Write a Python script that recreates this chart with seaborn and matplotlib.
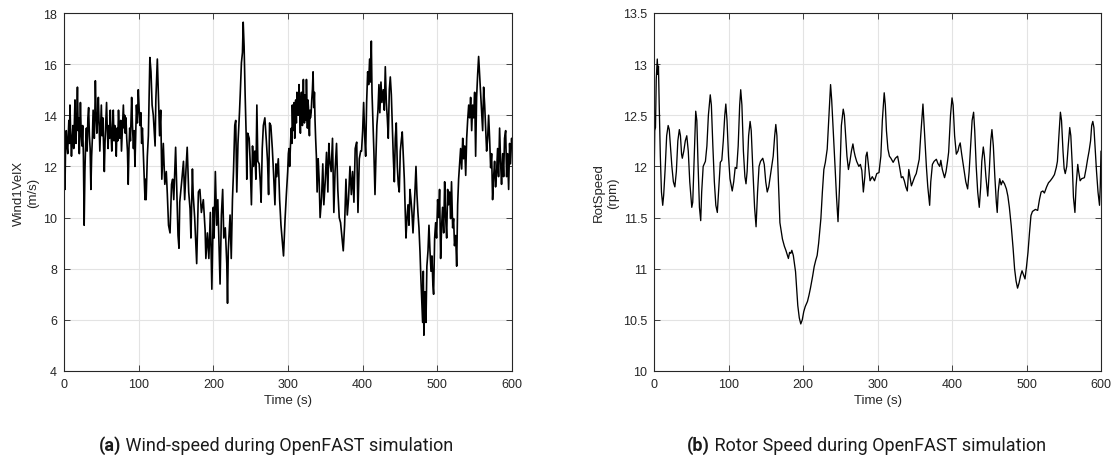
import matplotlib
matplotlib.use("Agg")
import matplotlib.pyplot as plt
import seaborn as sns
import pandas as pd

# Wind1VelX hub-height wind speed (m/s) against simulation time (s)
wind_time = [
    0, 0.7, 1.3, 2, 3, 4, 5, 5.8, 6.5, 7.2, 8, 9, 10, 11, 12, 13, 14, 14.7, 15.4, 16,
    17, 18, 19, 19.8, 20.5, 21.3, 22, 23, 24, 25, 26, 27, 28, 29, 30, 31, 32, 33, 34, 35,
    36, 37, 38, 39, 40.6, 41.3, 42, 43, 44, 45, 46, 47, 48, 49, 50, 51, 52, 53, 54, 55,
    56, 57, 58, 59, 60, 61, 62, 63, 64, 65, 66, 67, 68, 69, 70, 71, 72, 73, 74, 75,
    76, 77, 78, 79.5, 80.5, 81.3, 82, 83, 84, 85, 86, 87, 88, 89, 90.6, 91.7, 93, 94, 95, 96,
    97, 98.3, 99.5, 100.7, 102, 103, 104, 105, 106, 107.3, 108.5, 109.2, 110, 111.6, 113, 115, 116.5, 118,
    119.6, 122, 123, 125, 126, 128, 129.5, 131, 133, 135, 137, 138.4, 140, 142, 144, 145.5, 147, 149.5, 151, 152.7,
    154, 155, 157.6, 160, 161.6, 163.4, 165, 167, 168.8, 170, 172, 173, 175, 177.7, 180, 182, 184, 186.6, 189, 190,
    192, 194, 196, 198, 200, 201, 202.7, 204.5, 206, 208, 209, 210.8, 212.5, 214, 216, 218, 219, 220, 222.4, 224,
    225.6, 227, 228.7, 230, 231.4, 233, 235, 236, 237.6, 239, 240, 241.2, 242.6, 244, 244.8, 246, 248, 249.3, 251, 252.5,
    253.8, 255.6, 257, 258.3, 259.6, 261.4, 262.8, 264, 265.5, 267, 269, 271, 272.6, 274, 275.3, 277, 279, 280.7, 282.5, 283.9,
    285, 287, 288.8, 290.6, 292.4, 294, 296, 297.8, 299.6, 300.5, 301.3, 302.2, 303, 303.8, 304.5, 305.2, 305.8, 306.7, 307.6, 308.3,
    309, 309.7, 310.3, 311.2, 312, 312.8, 313.5, 314.2, 314.8, 315.7, 316.6, 317.3, 318, 318.6, 319.3, 320, 320.6, 321.3, 322, 322.7,
    323.3, 324, 324.7, 325.4, 326, 326.7, 327.4, 328, 328.7, 329.4, 330, 331, 331.8, 332.7, 333.6, 334.5, 335.4, 336.2, 337, 338,
    339, 340.4, 341.7, 343, 345,
    346.6, 348, 349.8, 351.6, 353.4, 354.7, 356, 357.8, 359.6, 361.4, 363, 365, 366.7, 368.6, 370.4, 372, 374, 375.8, 377.6, 379.4,
    381, 383, 384.8, 386.5, 388.3, 390, 392, 393.7, 395.5, 397.3, 398.5, 400, 401.3, 402.7, 404, 405.3, 406.7, 408, 409.3, 410.7,
    411.6, 412.5, 413.8, 415, 416.5, 417.8, 419, 420.5, 421.8, 423, 424.5, 425.8, 427.6, 429, 430.3, 431.7, 433, 434.3, 435.7, 437,
    438.4, 439.7, 441, 442.4, 443.7, 445, 446.4, 447.7, 449, 450.4, 451.7, 453, 454.4, 455.8, 457, 458, 459.3, 460.7, 462, 463.4,
    464.7, 466, 467.4, 468.7, 470, 471.4, 472.7, 474, 475.4, 476.8, 478, 479.4, 480.3, 481.2, 482, 483.5, 484.8, 486, 487.5, 488.8,
    490, 491.5, 492.8, 494, 495, 496.4, 497.7, 499, 500.4, 501.8, 503, 504.4, 505.8, 507, 508.5, 509.8, 511, 512.5, 513.8, 515,
    516.5, 517.8, 519, 520.5, 521.8, 523, 524.5, 525.9, 527.2, 528.5, 530, 531.2, 532.6, 534, 535.2, 536.6, 538, 539.3, 540.6, 542,
    543.3, 544.6, 546, 547.3, 548.6, 550, 551.3, 552.6, 554, 555.3, 556.6, 558, 559.3, 560.7, 562, 563.4, 564.7, 566, 567.4, 568.7,
    570, 571.4, 572.7, 574, 575.4, 576.7, 578, 579.4, 580.7, 582, 583.4, 584.8, 586, 587.5, 588.8, 590, 591.5, 592.8, 594, 595.5,
    596.8, 598, 599.5, 600,
]
wind_speed = [
    13.0, 12.2, 11.1, 12.6, 13.4, 12.8, 12.5, 13.3, 13.8, 12.9, 14.4, 13.2, 12.4, 13.1, 13.6, 12.7, 13.9, 14.6, 13.2, 12.9,
    13.8, 15.1, 13.4, 13.9, 12.5, 13.6, 14.5, 13.3, 12.8, 13.6, 12.4, 9.7, 11.8, 12.9, 13.5, 12.6, 13.9, 14.3, 13.2, 12.7,
    11.1, 12.4, 13.1, 14.2, 13.1, 14.0, 15.35, 14.1, 13.3, 13.9, 14.7, 13.6, 12.6, 13.5, 14.4, 13.2, 13.9, 12.8, 11.8, 13.0,
    13.7, 14.5, 13.4, 12.7, 13.6, 13.1, 14.2, 13.3, 12.6, 13.5, 14.2, 13.0, 13.6, 13.2, 12.4, 13.5, 13.0, 14.2, 13.4, 13.1,
    13.8, 12.6, 13.3, 14.4, 13.5, 14.0, 13.3, 13.9, 13.1, 12.6, 11.3, 12.7, 13.5, 13.0, 14.7, 13.6, 12.7, 13.4, 12.0, 13.2,
    14.4, 13.7, 15.0, 14.2, 13.6, 14.1, 12.9, 13.5, 12.7, 11.6, 10.7, 11.5, 10.7, 12.4, 13.2, 16.26, 15.7, 14.4,
    14.0, 12.8, 14.6, 16.2, 15.2, 13.2, 14.2, 11.5, 12.9, 11.3, 11.8, 10.9, 9.7, 9.4, 11.3, 11.5, 10.7, 12.75, 11.1, 9.3,
    8.8, 10.6, 11.4, 12.2, 10.7, 11.9, 12.75, 11.0, 10.35, 9.2, 11.9, 10.9, 10.0, 8.2, 11.0, 11.1, 10.2, 10.7, 9.5, 8.4,
    9.4, 8.4, 10.2, 7.2, 10.4, 9.2, 11.8, 9.7, 10.7, 8.4, 7.4, 10.1, 11.1, 9.2, 9.6, 8.2, 6.65, 8.7, 10.1, 8.4,
    10.7, 11.8, 13.6, 13.8, 11.0, 12.9, 14.1, 14.8, 16.05, 16.45, 17.64, 16.7, 14.8, 13.2, 11.5, 13.3, 13.1, 12.2, 10.5, 12.8,
    12.0, 12.6, 11.5, 14.4, 12.2, 12.1, 11.4, 10.6, 12.7, 13.6, 13.9, 13.0, 12.2, 10.9, 13.7, 13.6, 12.7, 11.7, 10.5, 12.1,
    11.6, 12.3, 10.7, 9.7, 9.05, 8.5, 9.9, 10.9, 11.8, 12.5, 12.7, 12.0, 12.6, 13.2, 13.5, 12.9, 14.4, 13.4, 13.9, 14.5,
    13.1, 13.8, 14.6, 13.7, 14.9, 14.2, 14.0, 14.7, 15.2, 14.1, 13.3, 14.2, 14.9, 14.0, 13.6, 14.5, 15.4, 14.3, 13.7, 14.8,
    14.4, 13.8, 15.4, 14.4, 13.5, 14.6, 14.3, 13.7, 13.2, 14.2, 13.9, 14.1, 14.6, 15.0, 15.7, 14.3, 14.9, 13.8, 13.1, 12.4,
    11.0, 12.3, 11.5, 10.0, 10.8,
    12.1, 10.5, 11.4, 12.55, 11.0, 12.9, 12.2, 11.8, 13.1, 10.2, 11.8, 12.9, 11.1, 10.0, 9.8, 9.3, 8.7, 9.7, 11.5, 10.1,
    10.7, 12.0, 10.9, 11.8, 10.6, 12.7, 12.95, 10.2, 12.3, 12.6, 12.6, 13.4, 14.5, 13.2, 12.4, 14.5, 15.7, 15.2, 16.2, 15.3,
    16.9, 14.9, 13.7, 12.6, 10.9, 12.4, 13.6, 14.2, 15.2, 14.1, 15.3, 14.5, 15.0, 14.2, 15.9, 14.5, 13.9, 13.1, 15.0, 15.5,
    14.8, 13.6, 12.4, 11.4, 13.1, 13.7, 12.0, 11.3, 11.0, 12.6, 13.0, 13.35, 12.4, 11.5, 10.2, 9.2, 9.96, 10.5, 9.7, 11.1,
    10.7, 10.2, 9.4, 10.2, 11.0, 12.0, 10.9, 10.2, 9.6, 8.65, 7.6, 6.6, 5.9, 7.9, 5.4, 7.1, 5.9, 8.1, 8.7, 9.7,
    8.8, 7.9, 8.5, 7.4, 7.0, 9.2, 9.8, 9.2, 10.7, 10.0, 11.1, 8.4, 9.7, 10.4, 9.4, 11.4, 10.1, 9.2, 11.1, 10.5,
    11.0, 9.96, 11.4, 9.6, 9.96, 8.9, 9.3, 8.1, 10.5, 11.5, 12.2, 12.7, 11.9, 13.1, 12.3, 12.8, 11.65, 13.1, 13.8, 14.4,
    13.9, 14.7, 13.4, 14.4, 13.9, 14.9, 12.4, 14.7, 15.6, 16.3, 15.6, 14.9, 14.1, 13.4, 15.1, 14.4, 13.5, 12.6, 13.1, 14.0,
    13.1, 11.95, 12.5, 10.7, 11.6, 12.2, 11.2, 11.8, 12.7, 11.6, 13.5, 12.1, 11.3, 12.5, 11.6, 13.1, 13.4, 11.6, 12.5, 11.1,
    12.9, 12.1, 13.1, 12.8,
]

# RotSpeed rotor speed (rpm) against simulation time (s)
rotor_time = [
    0, 1, 2, 3, 4.4, 5.3, 6, 7, 8.5, 10, 11.7, 13, 15, 17, 19, 20.5, 22, 24, 26, 28,
    30, 32, 34, 35.5, 37, 38, 40, 42, 44, 46, 48, 50.7, 52, 54, 56, 57.5, 59, 61, 62.7, 64,
    66, 69, 71, 73, 75.5, 77, 79, 81, 83, 85, 87, 89, 91, 93, 95, 96.4, 98, 100, 102, 105,
    107, 109, 111, 113, 115, 116.4, 118, 120, 122, 123.5, 125, 127, 129, 130.5, 132.5, 135, 137, 139, 141, 143,
    146, 148, 150, 152, 154, 156, 158, 160, 162, 163.5, 165, 167, 169, 172.4, 175, 177, 180.4, 182, 183.6, 185,
    187, 190, 193, 195, 197, 199, 201, 203, 206, 208, 210, 213, 215, 217, 219, 221, 224, 226, 228, 230,
    232.5, 234.5, 237, 238.5, 241, 243, 245, 247, 249, 251.5, 254, 255.5, 257, 259, 261, 263, 265, 267, 268.5, 270,
    272, 275, 277, 279, 281, 283, 284.5, 286, 288, 290, 293, 296, 299, 302, 304.5, 306.5, 309, 310.5, 312, 314,
    316, 318, 321, 324, 327, 329.5, 332, 334, 336, 338, 340, 342, 343.5, 345.5, 348, 350, 352, 354, 356, 358,
    361, 363, 365.6, 367.5, 370, 371.5, 373.7, 376, 379, 381, 383.5, 385, 387, 390, 392, 394, 395.5, 398, 400, 401.5,
    403.5, 405.8, 408, 409.5, 411, 413, 416, 418.5, 421, 423, 425, 427, 429, 430.5, 432.5, 434.5, 436.6, 438.5, 440, 442,
    443.5, 445.5, 448, 450, 452, 453.6, 455.5, 457.5, 459.5, 460.7, 462, 464, 466, 468, 470.5, 473, 475, 477, 479.5, 482,
    484, 486, 488, 490, 492, 494, 496, 498, 500, 502, 504, 506, 508, 510, 512, 515, 517.5, 519.6, 522, 524,
    527, 529.5, 532, 535, 537.5, 540, 541.5, 543.5, 545.5, 547, 549, 550.5, 552, 554, 556, 558, 559.5, 561.5, 563, 565,
    566.5, 568.8, 570, 572, 574, 577.7, 580, 582, 584, 586, 587.5, 589, 590.5, 592, 594, 596, 598, 599, 600,
]
rotor_speed = [
    11.78, 12.35, 12.38, 12.85, 13.05, 12.9, 12.98, 12.6, 12.1, 11.75, 11.62, 11.72, 11.98, 12.3, 12.4, 12.36, 12.2, 12.0, 11.85, 11.8,
    11.95, 12.25, 12.36, 12.3, 12.12, 12.08, 12.15, 12.25, 12.3, 12.15, 11.85, 11.6, 11.65, 12.1, 12.54, 12.45, 12.05, 11.6, 11.47, 11.75,
    12.0, 12.05, 12.2, 12.5, 12.7, 12.6, 12.2, 11.85, 11.62, 11.55, 11.8, 12.04, 12.06, 12.25, 12.5, 12.61, 12.45, 12.1, 11.88, 11.76,
    11.85, 11.99, 11.98, 12.2, 12.6, 12.75, 12.6, 12.15, 11.9, 11.83, 11.95, 12.3, 12.44, 12.35, 12.0, 11.6, 11.41, 11.75, 12.0, 12.05,
    12.08, 12.02, 11.85, 11.75, 11.8, 11.9, 12.0, 12.1, 12.3, 12.41, 12.3, 11.85, 11.45, 11.29, 11.22, 11.18, 11.10, 11.16, 11.15, 11.18,
    11.13, 10.97, 10.64, 10.52, 10.46, 10.5, 10.58, 10.63, 10.68, 10.74, 10.81, 10.93, 11.02, 11.08, 11.13, 11.25, 11.49, 11.75, 11.97, 12.04,
    12.17, 12.45, 12.80, 12.65, 12.3, 12.0, 11.7, 11.46, 11.8, 12.40, 12.56, 12.5, 12.33, 12.1, 11.97, 12.05, 12.15, 12.22, 12.15, 12.10,
    12.05, 12.0, 12.02, 11.96, 11.75, 11.9, 12.1, 12.14, 12.0, 11.86, 11.9, 11.86, 11.93, 11.94, 12.10, 12.45, 12.72, 12.6, 12.35, 12.17,
    12.1, 12.08, 12.04, 12.08, 12.10, 12.0, 11.89, 11.9, 11.86, 11.8, 11.76, 11.97, 11.9, 11.81, 11.86, 11.9, 11.93, 12.0, 12.07, 12.3,
    12.61, 12.35, 12.0, 11.8, 11.62, 11.85, 12.02, 12.05, 12.07, 12.03, 12.0, 12.06, 11.97, 11.89, 11.95, 12.05, 12.14, 12.5, 12.67, 12.6,
    12.3, 12.12, 12.15, 12.2, 12.23, 12.12, 11.97, 11.85, 11.78, 11.95, 12.2, 12.45, 12.53, 12.35, 12.0, 11.75, 11.60, 11.8, 12.05, 12.19,
    12.1, 11.9, 11.71, 11.95, 12.25, 12.36, 12.2, 11.9, 11.65, 11.55, 11.75, 11.88, 11.82, 11.86, 11.83, 11.78, 11.71, 11.6, 11.42, 11.2,
    11.0, 10.88, 10.81, 10.86, 10.93, 10.98, 10.94, 10.90, 11.02, 11.16, 11.35, 11.52, 11.56, 11.57, 11.58, 11.57, 11.68, 11.75, 11.76, 11.74,
    11.8, 11.84, 11.86, 11.89, 11.92, 11.99, 12.05, 12.3, 12.53, 12.45, 12.15, 11.98, 11.93, 12.0, 12.2, 12.38, 12.3, 12.0, 11.7, 11.55,
    11.8, 12.02, 11.95, 11.86, 11.88, 11.89, 11.98, 12.07, 12.15, 12.25, 12.4, 12.44, 12.38, 12.2, 11.95, 11.75, 11.62, 11.8, 12.15,
]

x_ticks = [0, 100, 200, 300, 400, 500, 600]
wind_ticks = [4, 6, 8, 10, 12, 14, 16, 18]
rotor_ticks = [10, 10.5, 11, 11.5, 12, 12.5, 13, 13.5]
rotor_tick_labels = ["10", "10.5", "11", "11.5", "12", "12.5", "13", "13.5"]

sns.set_theme(style="white")
plt.rcParams["font.family"] = ["Liberation Sans", "DejaVu Sans"]

wind_df = pd.DataFrame({"Time (s)": wind_time, "Wind1VelX": wind_speed})
rotor_df = pd.DataFrame({"Time (s)": rotor_time, "RotSpeed": rotor_speed})

fig = plt.figure(figsize=(11.12, 4.56), dpi=100)
ax_w = fig.add_axes([64 / 1112, 84 / 456, 448 / 1112, 358 / 456])
ax_r = fig.add_axes([654 / 1112, 84 / 456, 447 / 1112, 358 / 456])

sns.lineplot(data=wind_df, x="Time (s)", y="Wind1VelX", ax=ax_w, color="black",
             linewidth=1.2, estimator=None, sort=False)
sns.lineplot(data=rotor_df, x="Time (s)", y="RotSpeed", ax=ax_r, color="black",
             linewidth=0.95, estimator=None, sort=False)

axis_grey = "#262626"
for ax in (ax_w, ax_r):
    ax.set_xlim(0, 600)
    ax.set_xticks(x_ticks)
    ax.grid(True, color="#e3e3e3", linewidth=0.8)
    ax.set_axisbelow(True)
    for s in ax.spines.values():
        s.set_visible(True)
        s.set_color(axis_grey)
        s.set_linewidth(0.8)
    ax.tick_params(direction="in", length=4, width=0.6, color=axis_grey,
                   labelsize=9, labelcolor=axis_grey, top=True, right=True,
                   bottom=True, left=True, pad=5)
    ax.set_xlabel("Time (s)", fontsize=9.5, color=axis_grey, labelpad=3)

ax_w.set_ylim(4, 18)
ax_w.set_yticks(wind_ticks)
ax_w.set_ylabel("Wind1VelX\n(m/s)", fontsize=9.5, color=axis_grey, labelpad=3)

ax_r.set_ylim(10, 13.5)
ax_r.set_yticks(rotor_ticks)
ax_r.set_yticklabels(rotor_tick_labels)
ax_r.set_ylabel("RotSpeed\n(rpm)", fontsize=9.5, color=axis_grey, labelpad=3)

# Sub-figure captions: bold tag followed by regular text, centred as a unit
fig.canvas.draw()
renderer = fig.canvas.get_renderer()
captions = [(0.248, "(a)", " Wind-speed during OpenFAST simulation"),
            (0.779, "(b)", " Rotor Speed during OpenFAST simulation")]
cap_y = 1 - 446 / 456
for cx, tag, rest in captions:
    t1 = fig.text(0, cap_y, tag, fontsize=13, fontweight="bold", family="Roboto",
                  va="center", ha="left", color="#1a1a1a")
    t2 = fig.text(0, cap_y, rest, fontsize=13, family="Roboto",
                  va="center", ha="left", color="#1a1a1a")
    w1 = t1.get_window_extent(renderer).width / fig.bbox.width
    w2 = t2.get_window_extent(renderer).width / fig.bbox.width
    x0 = cx - (w1 + w2) / 2
    t1.set_x(x0)
    t2.set_x(x0 + w1)

fig.savefig("out.png", dpi=100)
